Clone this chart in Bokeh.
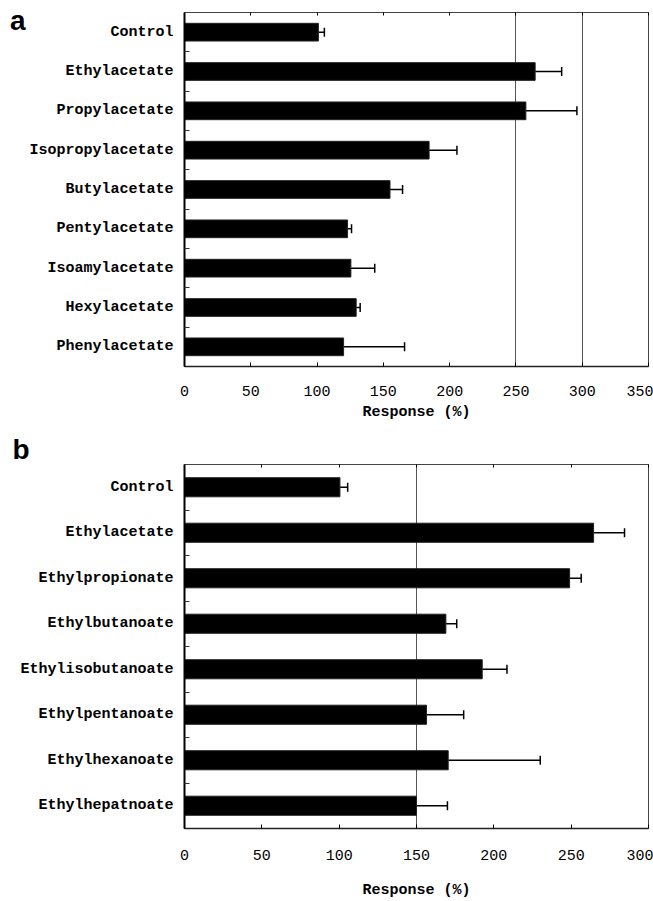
from bokeh.plotting import figure
from bokeh.models import (Range1d, FixedTicker, LinearAxis, Whisker, ColumnDataSource,
                          TeeHead, CustomJSTickFormatter, Title)
from bokeh.layouts import column
from bokeh.embed import file_html
from bokeh.resources import INLINE

# ---- panel a data ----
cats_a = ["Control", "Ethylacetate", "Propylacetate", "Isopropylacetate", "Butylacetate",
          "Pentylacetate", "Isoamylacetate", "Hexylacetate", "Phenylacetate"]
resp_a = [101, 264.5, 257.5, 184.5, 155, 123, 125.5, 129.5, 120]
err_a = [4.5, 20, 38.5, 21, 9.5, 3, 18, 3, 46]
xticks_a = [0, 50, 100, 150, 200, 250, 300, 350]
grid_a = [250, 300]

# ---- panel b data ----
cats_b = ["Control", "Ethylacetate", "Ethylpropionate", "Ethylbutanoate", "Ethylisobutanoate",
          "Ethylpentanoate", "Ethylhexanoate", "Ethylhepatnoate"]
resp_b = [100.5, 264.5, 249, 169, 192.5, 156.5, 170.5, 150]
err_b = [5, 20, 7.5, 7, 16, 24, 59.5, 20]
xticks_b = [0, 50, 100, 150, 200, 250, 300]
grid_b = [150]

MONO = "Liberation Mono"


def panel(cats, resp, err, xticks, grid, height, b_left, b_top, b_bottom, bar_h,
          tick_standoff, label_standoff):
    n = len(cats)
    ypos = list(range(n))
    src = ColumnDataSource(dict(y=ypos, v=resp,
                                hi=[r + e for r, e in zip(resp, err)]))
    p = figure(width=653, height=height, x_range=Range1d(xticks[0], xticks[-1]),
               y_range=Range1d(n - 0.5, -0.5), output_backend="svg",
               toolbar_location=None, min_border_left=b_left, min_border_top=b_top,
               min_border_bottom=b_bottom, min_border_right=5)
    p.outline_line_color = "#444444"
    p.outline_line_width = 1
    p.background_fill_color = "white"
    p.border_fill_color = "white"

    p.hbar(y="y", right="v", left=0, height=bar_h, source=src,
           fill_color="black", line_color="#222222", line_width=1)
    w = Whisker(source=src, base="y", lower="v", upper="hi", dimension="width",
                line_color="black", line_width=1.5,
                upper_head=TeeHead(size=9, line_color="black", line_width=1.5),
                lower_head=None)
    p.add_layout(w)

    # grid
    p.ygrid.grid_line_color = None
    p.xgrid.ticker = FixedTicker(ticks=grid)
    p.xgrid.grid_line_color = "#555555"
    p.xgrid.grid_line_width = 1

    # x axis
    xa = p.xaxis[0]
    xa.ticker = FixedTicker(ticks=xticks)
    xa.major_tick_in = 4
    xa.major_tick_out = 0
    xa.minor_tick_line_color = None
    xa.axis_line_color = "#222222"
    xa.axis_line_width = 1.5
    xa.major_label_text_font = MONO
    xa.major_label_text_font_size = "15px"
    xa.major_label_text_color = "black"
    xa.major_label_standoff = tick_standoff
    xa.axis_label = "Response (%)"
    xa.axis_label_text_font = MONO
    xa.axis_label_text_font_size = "15px"
    xa.axis_label_text_font_style = "bold"
    xa.axis_label_text_color = "black"
    xa.axis_label_standoff = label_standoff

    # top ticks
    top = LinearAxis(ticker=FixedTicker(ticks=xticks),
                     formatter=CustomJSTickFormatter(code="return ''"),
                     major_tick_in=3, major_tick_out=0, minor_tick_line_color=None,
                     axis_line_color=None, major_label_standoff=0,
                     major_label_text_font_size="1px")
    p.add_layout(top, "above")

    # y axis
    ya = p.yaxis[0]
    ya.ticker = FixedTicker(ticks=ypos, minor_ticks=[i + 0.5 for i in range(n - 1)])
    ya.major_label_overrides = {i: c for i, c in zip(ypos, cats)}
    ya.major_tick_in = 0
    ya.major_tick_out = 0
    ya.minor_tick_in = 5
    ya.minor_tick_out = 0
    ya.minor_tick_line_color = "#333333"
    ya.axis_line_color = "black"
    ya.axis_line_width = 2
    ya.major_label_text_font = MONO
    ya.major_label_text_font_size = "15px"
    ya.major_label_text_font_style = "bold"
    ya.major_label_text_color = "black"
    ya.major_label_standoff = 11
    return p


pa = panel(cats_a, resp_a, err_a, xticks_a, grid_a, height=425, b_left=184, b_top=12,
           b_bottom=59, bar_h=0.45, tick_standoff=19, label_standoff=5)
pb = panel(cats_b, resp_b, err_b, xticks_b, grid_b, height=476, b_left=183, b_top=39,
           b_bottom=73, bar_h=0.42, tick_standoff=21, label_standoff=19)

# panel letter "a": an extra left axis carrying one label near the top of the frame
letter_a = LinearAxis(ticker=FixedTicker(ticks=[-0.3]),
                      formatter=CustomJSTickFormatter(code="return 'a'"),
                      major_tick_in=0, major_tick_out=0, minor_tick_line_color=None,
                      axis_line_color=None, major_label_standoff=1,
                      major_label_text_font="Liberation Sans",
                      major_label_text_font_size="28px",
                      major_label_text_font_style="bold",
                      major_label_text_color="black")
pa.add_layout(letter_a, "left")

# panel letter "b": a title placed above panel b
pb.add_layout(Title(text="b", align="left", offset=-172, text_font="Liberation Sans",
                    text_font_size="28px", text_font_style="bold", text_color="black",
                    standoff=0), "above")

layout = column(pa, pb, spacing=0)
open("out.html", "w").write(file_html(layout, INLINE))
